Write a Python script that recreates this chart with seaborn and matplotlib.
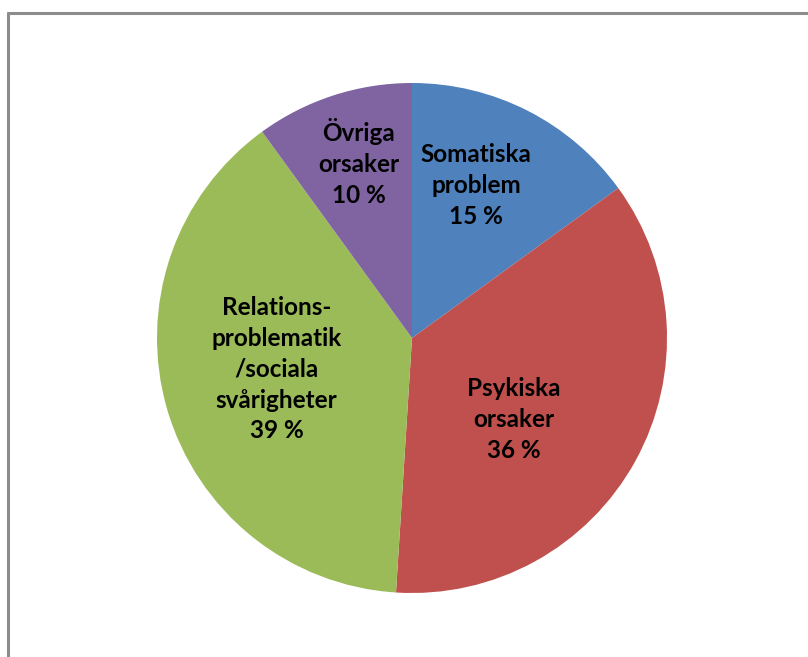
import matplotlib
matplotlib.use("Agg")
import matplotlib.pyplot as plt
import seaborn as sns
import numpy as np
from matplotlib.lines import Line2D

sns.set_theme(style="white")
plt.rcParams["font.family"] = ["Lato", "DejaVu Sans"]

# Orsaker till sjukskrivning (andel i procent)
categories = ["Somatiska\nproblem", "Psykiska\norsaker",
              "Relations-\nproblematik\n/sociala\nsvårigheter", "Övriga\norsaker"]
shares = [15, 36, 39, 10]
colors = ["#4F81BD", "#C0504D", "#9BBB59", "#8064A2"]

# label placement inside each wedge: radial fraction and angle tweak (deg)
label_radius = [0.65, 0.51, 0.545, 0.72]
label_angle_shift = [4.3, -10, -3.3, -1.2]

W, H = 808, 657
fig = plt.figure(figsize=(W / 100, H / 100), dpi=100)
cx, cy, r = 412, 338, 255
ax = fig.add_axes([(cx - r) / W, (H - cy - r) / H, 2 * r / W, 2 * r / H])

wedges, _ = ax.pie(shares, colors=colors, startangle=90, counterclock=False,
                   radius=1.0, wedgeprops=dict(linewidth=0))
ax.set_xlim(-1, 1)
ax.set_ylim(-1, 1)
ax.axis("off")

for w, cat, val, rf, da in zip(wedges, categories, shares,
                               label_radius, label_angle_shift):
    mid = np.deg2rad((w.theta1 + w.theta2) / 2 + da)
    ax.text(rf * np.cos(mid), rf * np.sin(mid), f"{cat}\n{val} %",
            ha="center", va="center", fontsize=17.5, fontweight="bold",
            color="black", linespacing=1.42)

# chart-area frame edges
frame = dict(color="#8C8C8C", linewidth=2.2, transform=fig.transFigure)
fig.add_artist(Line2D([8 / W, 1], [1 - 13 / H, 1 - 13 / H], **frame))
fig.add_artist(Line2D([8 / W, 8 / W], [0, 1 - 13 / H], **frame))

fig.savefig("out.png", dpi=100)
